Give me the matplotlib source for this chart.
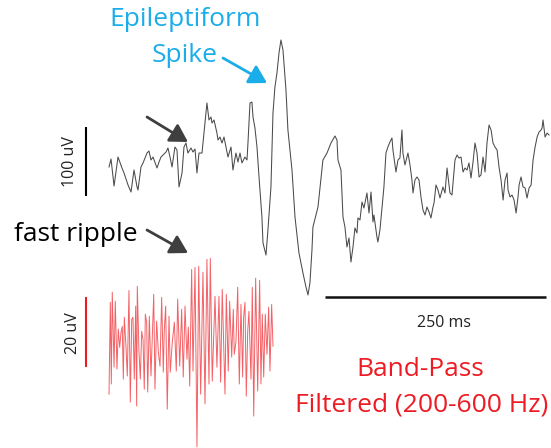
import matplotlib
matplotlib.use("Agg")
import matplotlib.pyplot as plt
import numpy as np

# ---- Data ----
# Raw trace: time (ms), voltage (uV)
raw_t = [0, 2.3, 5.7, 10.2, 14.7, 17.0, 21.5, 24.9, 28.3, 31.7, 32.8, 36.2, 38.5, 43.0, 45.2, 47.5,
         49.8, 54.3, 56.6, 58.8, 61.1, 64.5, 66.7, 69.0, 71.3, 74.6, 76.9, 79.2, 82.6, 84.8, 87.1,
         89.3, 92.7, 95.0, 97.3, 99.5, 101.8, 105.2, 107.4, 108.6, 110.8, 113.1, 115.4, 116.5,
         118.8, 122.1, 123.3, 125.5, 127.8, 130.1, 132.3, 134.6, 138.0, 140.2, 143.6, 145.9,
         148.2, 150.4, 153.8, 156.1, 157.2, 159.5, 161.7, 162.9, 165.1, 167.4, 169.7, 173.0,
         174.2, 177.6, 179.8, 183.2, 185.5, 187.7, 190.0, 192.3, 194.5, 196.8, 197.9, 200.2,
         202.4, 207.0, 210.4, 214.9, 219.4, 222.8, 225.1, 227.3, 229.6, 230.7, 236.4, 242.0,
         246.6, 251.1, 255.6, 257.9, 259.0, 262.4, 264.7, 266.9, 269.2, 271.5, 273.7, 276.0,
         278.2, 280.5, 281.6, 283.9, 286.2, 288.4, 291.8, 294.1, 296.4, 298.6, 299.7, 303.1,
         304.2, 306.5, 309.9, 311.0, 313.3, 315.5, 317.8, 320.1, 321.2, 324.6, 326.9, 329.1,
         331.4, 332.5, 334.8, 337.1, 338.2, 340.5, 342.7, 343.9, 346.1, 348.4, 350.7, 352.9,
         355.2, 357.5, 359.7, 362.0, 364.2, 366.5, 367.7, 369.9, 372.2, 374.4, 377.8, 380.1,
         382.4, 385.7, 388.0, 391.4, 393.7, 395.9, 398.2, 400.5, 402.7, 405.0, 407.2, 409.5,
         411.8, 414.0, 416.3, 418.6, 420.8, 423.1, 425.4, 427.6, 429.9, 432.2, 434.4, 436.7,
         439.0, 441.2, 443.5, 445.8, 448.0, 450.3, 451.4, 453.7, 455.9, 458.2, 460.5, 462.7,
         463.9, 466.1, 468.4, 470.7, 472.9, 475.2, 477.5, 479.7, 482.0, 484.3, 486.5, 488.8,
         489.9, 491.0, 493.3, 495.6, 497.8]
raw_uv = [-10.1, 1.4, -37.7, 4.3, -11.6, -18.8, -36.2, -46.4, -14.5, -39.1, -43.5, -10.1, -4.3,
          10.1, 13.0, 0, 4.3, -11.6, -2.9, 4.3, 7.2, 11.6, 17.4, 4.3, -10.1, 18.8, 14.5, -39.1,
          -18.8, 18.8, 24.6, 10.1, 17.4, 11.6, 15.9, -18.8, 10.1, 10.1, 39.1, 53.6, 82.6, 58.0,
          62.3, 53.6, 58.0, 39.1, 29.0, 33.3, 24.6, 33.3, 18.8, 4.3, 18.8, -14.5, 10.1, -2.9,
          10.1, -4.3, 4.3, 0, 24.6, 82.6, 84.0, 62.3, 46.4, 18.8, -24.6, -82.6, -120.3, -137.7,
          -101.4, -39.1, 68.1, 105.8, 126.1, 155.0, 173.9, 159.4, 140.6, 101.4, 43.5, -14.5,
          -82.6, -134.8, -163.7, -184.0, -195.6, -178.2, -130.4, -97.1, -68.1, 0, 10.1, 24.6,
          34.8, 29.0, 0, -14.5, -82.6, -97.1, -126.1, -113.0, -147.8, -126.1, -98.5, -105.8,
          -84.0, -86.9, -60.9, -69.6, -47.8, -76.8, -46.4, -89.8, -79.7, -111.6, -118.8, -101.4,
          -53.6, -39.1, 10.1, 18.8, 26.1, 31.9, 14.5, -17.4, 0, 2.9, 43.5, 10.1, -7.2, 4.3,
          10.1, -7.2, -29.0, -47.8, -29.0, -24.6, -29.0, -53.6, -72.5, -79.7, -68.1, -75.3,
          -84.0, -68.1, -62.3, -36.2, -43.5, -55.0, -39.1, -47.8, -11.6, -47.8, -50.7, 0, 7.2,
          2.9, 4.3, -17.4, -11.6, -14.5, -4.3, -26.1, -2.9, 24.6, 10.1, -24.6, -21.7, 4.3,
          -17.4, 24.6, 50.7, 43.5, 24.6, 18.8, 14.5, -10.1, -29.0, -58.0, -29.0, -18.8, -43.5,
          -53.6, -50.7, -58.0, -76.8, -53.6, -36.2, -24.6, -39.1, -40.6, -55.1, -40.6, -36.2,
          0, 18.8, 33.3, 40.6, 43.5, 46.4, 58.0, 33.3, 39.1, 36.2]

# Band-pass filtered trace (200-600 Hz): time (ms), voltage (uV)
bp_t = [0, 1.5, 2.6, 3.7, 5.7, 7.1, 9.0, 10.5, 12.1, 13.6, 15.0, 16.2, 17.3, 19.2, 20.7, 22.6,
        24.1, 25.7, 27.1, 28.6, 30.2, 31.3, 32.0, 33.9, 35.4, 37.0, 38.5, 39.9, 41.1, 42.6,
        43.8, 45.6, 47.5, 50.6, 52.0, 53.9, 55.8, 57.7, 59.6, 61.4, 62.5, 64.1, 65.9, 67.9,
        69.3, 71.6, 73.9, 76.1, 77.7, 80.0, 82.2, 84.0, 86.0, 88.2, 89.7, 91.3, 93.5, 95.0,
        97.3, 99.5, 101.5, 103.7, 106.3, 108.6, 110.8, 113.1, 114.6, 116.8, 119.9, 122.1,
        124.4, 126.3, 128.1, 131.2, 132.7, 134.9, 136.5, 138.8, 140.6, 141.7, 143.6, 145.6,
        147.4, 149.3, 151.2, 152.3, 153.8, 155.3, 156.9, 158.3, 160.6, 162.1, 163.7, 165.9,
        168.2, 170.4, 171.9, 173.4, 175.0, 176.8, 178.7, 180.6, 182.1, 184.0, 185.5]
bp_uv = [-14.3, 12.0, -11.4, 14.9, -6.6, 12.3, -7.1, 4.3, -0.9, 3.4, 5.1, -10.0, 7.7, -0.6, -9.1,
         15.4, -16.6, 7.1, 7.7, -10.0, 10.9, -17.7, 16.6, -2.0, -10.0, 3.7, 1.4, -12.9, 8.6,
         6.3, -13.7, 8.0, -9.1, 14.3, -12.9, 6.6, -2.3, -6.3, 13.4, -8.0, 3.7, 10.9, -18.6,
         8.0, -8.0, 0.6, 6.3, -7.7, 12.9, -6.3, 10.0, -9.4, 10.9, -4.3, 4.9, -12.0, 21.4,
         -7.7, 22.0, -29.4, 22.3, -14.3, 20.6, -17.1, 24.3, -11.4, 24.6, -10.6, 13.7, -6.6,
         13.7, -10.9, 15.7, -14.3, 14.3, -7.7, 12.3, -3.7, 10.0, -2.9, 0.6, 16.3, -11.4, 11.4,
         -9.4, 7.7, 12.0, -14.9, 3.7, 9.4, -10.0, 16.3, -20.6, 18.9, -13.4, 18.3, -11.4, 8.6,
         -9.4, 8.6, -2.9, 10.6, -7.7, 11.4, -0.6]

raw_scale_uv = 100
bp_scale_uv = 20
time_scale_ms = 250

# ---- Figure ----
W, H = 551, 448
fig = plt.figure(figsize=(W / 100, H / 100), dpi=100)
FONT = ['Open Sans', 'DejaVu Sans']
plt.rcParams['font.family'] = FONT

def fx(px):
    return px / W

def fy(py):
    return 1 - py / H

# pixel mapping parameters (layout)
x0_px = 109          # time 0 at this x pixel
ms_per_px = 250 / 221
raw_base_px, raw_uv_per_px = 160, 100 / 69
bp_base_px, bp_uv_per_px = 345, 20 / 70

xlim = (-x0_px * ms_per_px, (W - x0_px) * ms_per_px)

ax1 = fig.add_axes([0, 0, 1, 1])
ax1.set_xlim(*xlim)
ax1.set_ylim((raw_base_px - H) * raw_uv_per_px, raw_base_px * raw_uv_per_px)
ax1.axis('off')
ax1.plot(raw_t, raw_uv, color='#4a4a4a', lw=0.75)

# raw scale bars
sb_x = -23 * ms_per_px
ax1.plot([sb_x, sb_x], [-52, -52 + raw_scale_uv], color='black', lw=1.5, solid_capstyle='butt')
tb_y = -198.5
tb_x0 = 244.3
ax1.plot([tb_x0, tb_x0 + time_scale_ms], [tb_y, tb_y], color='#111111', lw=1.8,
         solid_capstyle='butt')

ax2 = fig.add_axes([0, 0, 1, 1])
ax2.set_xlim(*xlim)
ax2.set_ylim((bp_base_px - H) * bp_uv_per_px - 0.3, bp_base_px * bp_uv_per_px)
ax2.axis('off')
ax2.patch.set_alpha(0)
ax2.plot(bp_t, bp_uv, color='#f03a40', lw=0.7, alpha=0.8)
ax2.plot([sb_x, sb_x], [-6.6, -6.6 + bp_scale_uv], color='#ed1c24', lw=1.5,
         solid_capstyle='butt')

# texts
SMALL = 11.5
fig.text(fx(70), fy(162), '100 uV', rotation=90, ha='center', va='center', fontsize=SMALL,
         color='#222222')
fig.text(fx(73), fy(333), '20 uV', rotation=90, ha='center', va='center', fontsize=SMALL,
         color='#222222')
fig.text(fx(444), fy(323), '250 ms', ha='center', va='center', fontsize=SMALL, color='#222222')
cyan = '#1badea'
red = '#ed1c24'
BIG = 19
fig.text(fx(185), fy(20), 'Epileptiform', ha='center', va='center', fontsize=BIG, color=cyan)
fig.text(fx(185), fy(56), 'Spike', ha='center', va='center', fontsize=BIG, color=cyan)
fig.text(fx(76), fy(234), 'fast ripple', ha='center', va='center', fontsize=BIG, color='black')
fig.text(fx(420), fy(370), 'Band-Pass', ha='center', va='center', fontsize=BIG, color=red)
fig.text(fx(422), fy(405), 'Filtered (200-600 Hz)', ha='center', va='center', fontsize=BIG,
         color=red)

def arrow(x0, y0, x1, y1, color):
    fig.add_artist(matplotlib.patches.FancyArrowPatch(
        (fx(x0), fy(y0)), (fx(x1), fy(y1)), transform=fig.transFigure,
        arrowstyle='-|>,head_length=4.8,head_width=2.8', mutation_scale=2.2,
        lw=2.0, color=color, shrinkA=0, shrinkB=0))

arrow(147, 117, 188, 142, '#3f3f3f')
arrow(147, 230, 188, 253, '#3f3f3f')
arrow(223, 58, 267, 83, cyan)

fig.savefig('out.png', dpi=100)
